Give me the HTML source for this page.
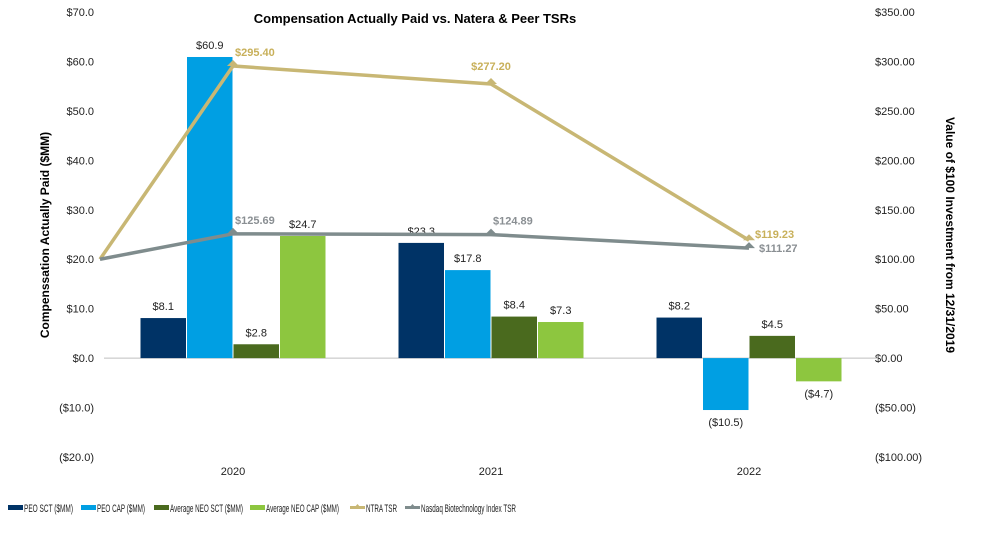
<!DOCTYPE html>
<html><head><meta charset="utf-8"><style>
body{margin:0;background:#fff;font-family:"Liberation Sans",Arial,sans-serif;}
svg text{font-family:"Liberation Sans",Arial,sans-serif;}
</style></head><body>
<svg id="chart" width="997" height="538" viewBox="0 0 997 538"></svg>
<script>
const categories=["2020","2021","2022"];
const peoSct=[8.1,23.3,8.2];
const peoCap=[60.9,17.8,-10.5];
const neoSct=[2.8,8.4,4.5];
const neoCap=[24.7,7.3,-4.7];
const ntraTsr=[100,295.40,277.20,119.23];
const nasdaqTsr=[100,125.69,124.89,111.27];
const leftTicks=[70,60,50,40,30,20,10,0,-10,-20];
const rightTicks=[350,300,250,200,150,100,50,0,-50,-100];

const svg=document.getElementById('chart');
const NS='http://www.w3.org/2000/svg';
function mk(tag,attrs,parent){const e=document.createElementNS(NS,tag);for(const k in attrs)e.setAttribute(k,attrs[k]);(parent||svg).appendChild(e);return e;}
const yTop=12,yBot=457;
const yL=v=>yTop+(70-v)*(yBot-yTop)/90;
const yR=v=>yTop+(350-v)*(yBot-yTop)/450;
const x0=104,band=258;
const xc=i=>x0+band*(i+0.5);
const bw=46.5;
const fmtL=v=>v<0?'($'+Math.abs(v).toFixed(1)+')':'$'+v.toFixed(1);
const fmtR=v=>v<0?'($'+Math.abs(v).toFixed(2)+')':'$'+v.toFixed(2);

let t=mk('text',{x:415,y:23,'font-size':13,'font-weight':'bold','text-anchor':'middle',fill:'#000'});
t.textContent='Compensation  Actually  Paid vs. Natera & Peer TSRs';



leftTicks.forEach(v=>{const e=mk('text',{x:94,y:yL(v)+4,'font-size':11,'text-anchor':'end',fill:'#222'});e.textContent=fmtL(v);

});
rightTicks.forEach(v=>{const e=mk('text',{x:875,y:yR(v)+4,'font-size':11,'text-anchor':'start',fill:'#222'});e.textContent=fmtR(v);

});

t=mk('text',{x:0,y:0,'font-size':12,'font-weight':'bold','text-anchor':'middle',transform:'translate(49,235) rotate(-90)'});
t.textContent='Compenssation  Actually  Paid  ($MM)';


t=mk('text',{x:0,y:0,'font-size':12,'font-weight':'bold','text-anchor':'middle',transform:'translate(946,235) rotate(90)'});
t.textContent='Value  of  $100  Investment  from  12/31/2019';



const zl=mk('line',{x1:x0,x2:x0+band*3,y1:yL(0),y2:yL(0),stroke:'#bfbfbf','stroke-width':1});



const series=[[peoSct,'#003366','peo-sct'],[peoCap,'#009fe3','peo-cap'],[neoSct,'#4a6a1e','neo-sct'],[neoCap,'#8dc63f','neo-cap']];
categories.forEach((c,i)=>{
  series.forEach((s,j)=>{
    const v=s[0][i];const x=xc(i)-2*bw+j*bw;
    const y1=yL(Math.max(v,0)),y2=yL(Math.min(v,0));
    const r=mk('rect',{x:x+0.5,y:y1,width:bw-1,height:y2-y1,fill:s[1]});
    
    
    const lbl=mk('text',{x:x+bw/2,y:v>=0?y1-8:y2+16,'font-size':11,'text-anchor':'middle',fill:'#222'});
    lbl.textContent=fmtL(v);
    
    
  });
  const ct=mk('text',{x:xc(i),y:475,'font-size':11,'text-anchor':'middle',fill:'#222'});ct.textContent=c;
  
  
});

function lineSeries(vals,color,name,lblColor,offs){
  const xs=vals.map((v,k)=>k===0?100:xc(k-1));
  const pts=vals.map((v,k)=>xs[k]+','+yR(v)).join(' ');
  const p=mk('polyline',{points:pts,fill:'none',stroke:color,'stroke-width':3.5});
  
  
  vals.forEach((v,k)=>{if(k===0)return;
    const m=mk('path',{d:`M${xs[k]-6},${yR(v)} L${xs[k]},${yR(v)-6} L${xs[k]+6},${yR(v)} Z`,fill:color});
    
    
    const o=offs[k-1];
    const l=mk('text',{x:xs[k]+o[0],y:yR(v)+o[1],'font-size':11,'font-weight':'bold','text-anchor':o[2],fill:lblColor});
    l.textContent='$'+v.toFixed(2);
    
    
  });
}
lineSeries(ntraTsr,'#c8b774','ntra','#c8b05a',[[2,-10,'start'],[0,-14,'middle'],[6,-2,'start']]);
lineSeries(nasdaqTsr,'#7f8c8d','nasdaq','#8a8f93',[[2,-10,'start'],[2,-10,'start'],[10,4,'start']]);

const legend=[['PEO SCT ($MM)','#003366',8,'rect',49],['PEO CAP ($MM)','#009fe3',81,'rect',48],['Average NEO SCT ($MM)','#4a6a1e',154,'rect',73],['Average NEO CAP ($MM)','#8dc63f',250,'rect',73],['NTRA TSR','#c8b774',350,'line',31],['Nasdaq Biotechnology Index TSR','#7f8c8d',405,'line',95]];
legend.forEach(l=>{
  const g=mk('g',{});
  
  
  if(l[3]==='rect')mk('rect',{x:l[2],y:505,width:15,height:5,fill:l[1]},g);
  else{mk('rect',{x:l[2],y:506,width:15,height:3,fill:l[1]},g);mk('path',{d:`M${l[2]+4},508 L${l[2]+7.5},504 L${l[2]+11},508 Z`,fill:l[1]},g);}
  const tx=mk('text',{x:l[2]+16,y:512,'font-size':11,fill:'#222',textLength:l[4],lengthAdjust:'spacingAndGlyphs'},g);tx.textContent=l[0];
});
</script>
</body></html>
